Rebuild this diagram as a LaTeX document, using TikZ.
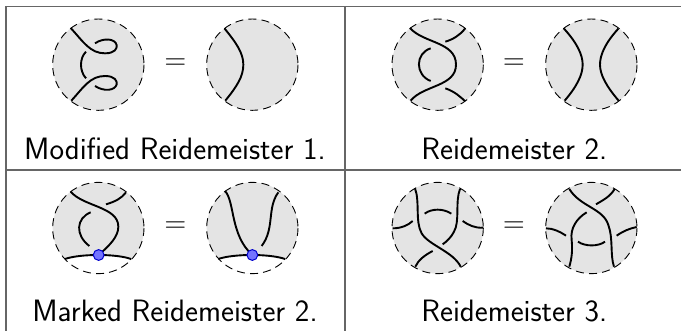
\documentclass[tikz,border=0pt]{standalone}
\usepackage{fontspec}
\tikzset{
  frameline/.style={draw=black!60,line width=1.6pt},
  disc/.style={fill=black!10.5},
  rim/.style={draw=black,line width=0.9pt,dash pattern=on 8pt off 5.2pt},
  strand/.style={draw=black,line width=1.9pt},
  capt/.style={anchor=base,font=\sffamily\fontsize{30.9}{34}\selectfont,inner sep=0pt},
  eqs/.style={font=\rmfamily\fontsize{30}{30}\selectfont,inner sep=0pt},
  dotm/.style={circle,draw=blue!80!black,fill=blue!55,line width=1pt,minimum size=10.8pt,inner sep=0pt},
  panel/.style={x=0.33333pt,y=-0.33333pt}
}
\begin{document}
\begin{tikzpicture}[x=1pt,y=-1pt]
\useasboundingbox (0,0) rectangle (681,331);
\path[fill=white] (0,0) rectangle (681,331);
\draw[frameline] (681,6.5) -- (6,6.5) -- (6,331);
\draw[frameline] (6,170) -- (681,170);
\draw[frameline] (344.8,6.5) -- (344.8,331);

% top-left
\begin{scope}[shift={(0,0)},panel]
\fill[disc] (295,194) circle[radius=137];
\draw[rim] (295,194) circle[radius=137];
\fill[disc] (757,194) circle[radius=137];
\draw[rim] (757,194) circle[radius=137];
\draw[strand] (212,84) .. controls (250,125) and (270,160) .. (315,160) .. controls (345,160) and (352,145) .. (350,135) .. controls (345,115) and (310,113) .. (285,130);
\draw[strand] (214,302) .. controls (250,263) and (270,228) .. (315,228) .. controls (345,228) and (352,243) .. (350,253) .. controls (345,273) and (310,275) .. (285,258);
\draw[strand] (258,155) .. controls (238,175) and (238,213) .. (258,235);
\draw[strand] (674,86) .. controls (710,130) and (730,160) .. (730,194) .. controls (730,230) and (710,260) .. (676,302);
\node[eqs] (e1) at (526,191) {=};
\node[capt] (c1) at (525,480) {Modified Reidemeister 1.};
\end{scope}

% top-right
\begin{scope}[shift={(340,0)},panel]
\fill[disc] (293,194) circle[radius=137];
\draw[rim] (293,194) circle[radius=137];
\fill[disc] (754,194) circle[radius=137];
\draw[rim] (754,194) circle[radius=137];
\draw[strand] (210,84) .. controls (250,130) and (348,125) .. (348,194) .. controls (348,260) and (250,255) .. (212,302);
\draw[strand] (316,125) .. controls (340,118) and (360,105) .. (375,86);
\draw[strand] (272,145) .. controls (225,160) and (225,225) .. (272,243);
\draw[strand] (316,265) .. controls (345,275) and (360,290) .. (376,304);
\draw[strand] (672,86) .. controls (712,130) and (728,165) .. (728,194) .. controls (728,225) and (710,260) .. (674,302);
\draw[strand] (835,86) .. controls (795,130) and (780,165) .. (780,194) .. controls (780,225) and (800,260) .. (836,302);
\node[eqs] (e2) at (522,191) {=};
\node[capt] (c2) at (523,480) {Reidemeister 2.};
\end{scope}

% bottom-left
\begin{scope}[shift={(0,165)},panel]
\fill[disc] (295,189) circle[radius=137];
\begin{scope}
\clip (295,189) circle[radius=137];
\fill[white] (195,282) .. controls (240,266) and (350,266) .. (393,282) -- (500,400) -- (100,400) -- cycle;
\end{scope}
\draw[rim] (295,189) circle[radius=137];
\fill[disc] (757,189) circle[radius=137];
\begin{scope}
\clip (757,189) circle[radius=137];
\fill[white] (655,282) .. controls (700,266) and (810,266) .. (855,282) -- (960,400) -- (560,400) -- cycle;
\end{scope}
\draw[rim] (757,189) circle[radius=137];
\draw[strand] (212,80) .. controls (250,125) and (355,125) .. (355,185) .. controls (355,215) and (330,240) .. (296,270);
\draw[strand] (318,118) .. controls (345,110) and (365,100) .. (378,82);
\draw[strand] (272,142) .. controls (228,160) and (225,210) .. (268,243);
\draw[strand] (195,282) .. controls (240,266) and (350,266) .. (393,282);
\node[dotm] (m1) at (296,270) {};
\draw[strand] (675,78) .. controls (705,110) and (690,210) .. (757,270);
\draw[strand] (835,82) .. controls (800,130) and (825,190) .. (785,243);
\draw[strand] (655,282) .. controls (700,266) and (810,266) .. (855,282);
\node[dotm] (m2) at (757,270) {};
\node[eqs] (e3) at (526,186) {=};
\node[capt] (c3) at (525,470) {Marked Reidemeister 2.};
\end{scope}

% bottom-right
\begin{scope}[shift={(340,165)},panel]
\fill[disc] (293,189) circle[radius=137];
\draw[rim] (293,189) circle[radius=137];
\fill[disc] (754,189) circle[radius=137];
\draw[rim] (754,189) circle[radius=137];
\draw[strand] (225,70) .. controls (240,110) and (225,170) .. (245,205) .. controls (265,240) and (340,260) .. (362,305);
\draw[strand] (360,72) .. controls (345,110) and (360,170) .. (342,200) .. controls (335,215) and (320,230) .. (308,238);
\draw[strand] (278,258) .. controls (255,270) and (235,285) .. (226,305);
\draw[strand] (254,146) .. controls (275,130) and (310,130) .. (334,146);
\draw[strand] (158,190) .. controls (185,190) and (205,180) .. (218,168);
\draw[strand] (368,168) .. controls (385,180) and (405,190) .. (430,188);
\draw[strand] (688,72) .. controls (720,125) and (790,130) .. (805,180) .. controls (820,220) and (810,270) .. (822,305);
\draw[strand] (768,118) .. controls (790,105) and (810,95) .. (824,72);
\draw[strand] (740,142) .. controls (710,160) and (690,190) .. (695,225) .. controls (698,260) and (695,280) .. (688,305);
\draw[strand] (618,190) .. controls (640,190) and (660,200) .. (678,212);
\draw[strand] (830,212) .. controls (850,198) and (870,190) .. (890,186);
\draw[strand] (714,230) .. controls (735,245) and (775,245) .. (795,230);
\node[eqs] (e4) at (522,186) {=};
\node[capt] (c4) at (523,470) {Reidemeister 3.};
\end{scope}
\end{tikzpicture}
\end{document}
